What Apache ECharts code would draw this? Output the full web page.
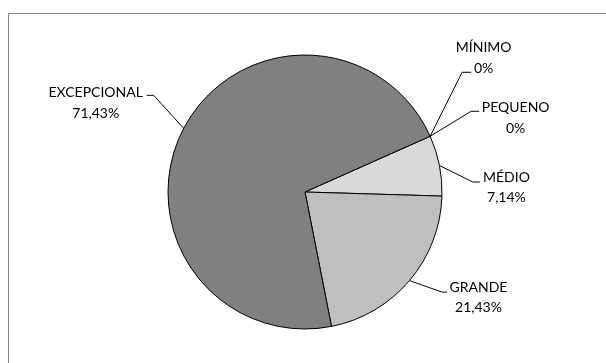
<!DOCTYPE html>
<html>
<head>
<meta charset="utf-8">
<script src="https://cdn.jsdelivr.net/npm/echarts@6/dist/echarts.min.js"></script>
<style>
  html, body { margin: 0; padding: 0; background: #ffffff; }
  #chart { width: 606px; height: 363px; }
</style>
</head>
<body>
<div id="chart"></div>
<script>
// Categories and counts for each size class
const categories = ['MÍNIMO', 'PEQUENO', 'MÉDIO', 'GRANDE', 'EXCEPCIONAL'];
const counts = [0, 0, 1, 3, 10];
const sliceColors = ['#ffffff', '#f2f2f2', '#d9d9d9', '#bfbfbf', '#808080'];

// Pie geometry
const PIE_CENTER = [305, 192];
const PIE_RADIUS = 137;

// Leader-line and text placement, relative to each label's anchor on the rim.
// anchorDeg overrides the slice mid-angle (degrees, counter-clockwise from 3 o'clock).
const labelPlacement = [
  { elbow: [32, -64], end: [41, -64], text: [53.5, -99] },
  { elbow: [41, -25], end: [49, -25], text: [85.5, -39] },
  { elbow: [33.5, 16.5], end: [40.5, 16.5], text: [67, 1.5] },
  { elbow: [32.5, 11.5], end: [37.5, 11.5], text: [69, -3.5] },
  { anchorDeg: 152.3, elbow: [-30, -33], end: [-37, -33], text: [-88, -46] }
];

const chart = echarts.init(document.getElementById('chart'), null, { renderer: 'canvas' });

function pctText(p) {
  if (p === 0) return '0%';
  return p.toFixed(2).replace('.', ',') + '%';
}

chart.setOption({
  animation: false,
  backgroundColor: '#ffffff',
  graphic: [{
    type: 'rect',
    shape: { x: 8.5, y: 13.5, width: 700, height: 500 },
    style: { fill: 'none', stroke: '#868686', lineWidth: 1 },
    silent: true
  }],
  series: [{
    type: 'pie',
    center: PIE_CENTER,
    radius: PIE_RADIUS,
    startAngle: 24,
    clockwise: true,
    avoidLabelOverlap: false,
    data: categories.map((c, i) => ({
      name: c,
      value: counts[i],
      itemStyle: { color: sliceColors[i] }
    })),
    itemStyle: { borderColor: '#000000', borderWidth: 1 },
    label: {
      show: true,
      position: 'outside',
      fontFamily: 'Lato',
      fontSize: 14,
      color: '#000000',
      lineHeight: 20.5,
      formatter: p => p.name + '\n' + pctText(p.percent)
    },
    labelLine: {
      show: true,
      length: 20,
      length2: 8,
      lineStyle: { color: '#000000', width: 1 }
    },
    labelLayout: function (params) {
      const cfg = labelPlacement[params.dataIndex];
      let a = params.labelLinePoints ? params.labelLinePoints[0] : PIE_CENTER;
      if (cfg.anchorDeg !== undefined) {
        const r = cfg.anchorDeg * Math.PI / 180;
        a = [PIE_CENTER[0] + PIE_RADIUS * Math.cos(r), PIE_CENTER[1] - PIE_RADIUS * Math.sin(r)];
      }
      return {
        x: a[0] + cfg.text[0],
        y: a[1] + cfg.text[1],
        align: 'center',
        verticalAlign: 'top',
        labelLinePoints: [
          [a[0], a[1]],
          [a[0] + cfg.elbow[0], a[1] + cfg.elbow[1]],
          [a[0] + cfg.end[0], a[1] + cfg.end[1]]
        ]
      };
    },
    emphasis: { disabled: true }
  }]
});
</script>
</body>
</html>
